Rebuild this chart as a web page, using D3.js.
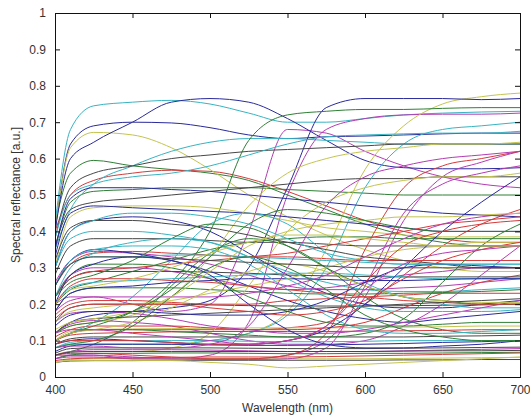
<!DOCTYPE html>
<html>
<head>
<meta charset="utf-8">
<script src="https://cdn.jsdelivr.net/npm/d3@7"></script>
<style>
  html, body { margin: 0; padding: 0; background: #fff; }
  svg { display: block; }
  text { font-family: "Liberation Sans", Arial, sans-serif; fill: #333; }
</style>
</head>
<body>
<svg id="chart" width="530" height="417"></svg>
<script>
// Sampling wavelengths (nm)
const wavelengths = [400, 410, 425, 450, 475, 500, 525, 550, 575, 600, 625, 650, 675, 700];

// Reflectance spectra, one array per sample (ordered to follow the colour cycle b g r c m y k)
const spectra = [
  // 1
  [0.40,0.64,0.69,0.70,0.698,0.685,0.665,0.655,0.66,0.662,0.665,0.668,0.67,0.67],
  [0.42,0.56,0.595,0.58,0.57,0.56,0.54,0.50,0.46,0.42,0.39,0.37,0.36,0.36],
  [0.40,0.50,0.54,0.56,0.568,0.565,0.545,0.51,0.47,0.43,0.40,0.38,0.37,0.37],
  [0.42,0.68,0.745,0.755,0.76,0.75,0.725,0.70,0.70,0.71,0.72,0.725,0.728,0.73],
  [0.20,0.22,0.22,0.20,0.18,0.20,0.40,0.68,0.67,0.62,0.58,0.55,0.53,0.52],
  [0.40,0.63,0.672,0.665,0.63,0.57,0.50,0.44,0.39,0.35,0.32,0.30,0.29,0.29],
  [0.28,0.36,0.38,0.38,0.38,0.375,0.37,0.37,0.365,0.36,0.36,0.36,0.36,0.36],
  // 2
  [0.40,0.60,0.645,0.70,0.755,0.765,0.755,0.71,0.65,0.595,0.575,0.572,0.572,0.575],
  [0.35,0.48,0.51,0.515,0.52,0.52,0.52,0.515,0.51,0.505,0.50,0.50,0.50,0.50],
  [0.25,0.31,0.34,0.345,0.34,0.335,0.33,0.33,0.325,0.32,0.32,0.32,0.32,0.32],
  [0.35,0.46,0.53,0.58,0.62,0.645,0.655,0.655,0.65,0.645,0.64,0.64,0.64,0.64],
  [0.05,0.06,0.06,0.05,0.05,0.06,0.15,0.50,0.68,0.71,0.72,0.722,0.722,0.725],
  [0.08,0.09,0.09,0.09,0.09,0.10,0.12,0.18,0.35,0.57,0.69,0.75,0.77,0.78],
  [0.36,0.46,0.48,0.49,0.50,0.51,0.52,0.53,0.54,0.545,0.545,0.55,0.55,0.55],
  // 3
  [0.12,0.15,0.17,0.18,0.19,0.21,0.30,0.52,0.74,0.765,0.765,0.765,0.762,0.765],
  [0.10,0.12,0.14,0.18,0.26,0.40,0.65,0.72,0.73,0.735,0.735,0.738,0.74,0.74],
  [0.10,0.12,0.13,0.13,0.13,0.13,0.13,0.135,0.15,0.20,0.28,0.36,0.42,0.46],
  [0.08,0.09,0.09,0.09,0.09,0.10,0.12,0.17,0.30,0.52,0.64,0.68,0.69,0.70],
  [0.26,0.32,0.345,0.34,0.33,0.31,0.28,0.25,0.24,0.24,0.245,0.25,0.26,0.27],
  [0.30,0.44,0.465,0.47,0.47,0.465,0.45,0.43,0.41,0.40,0.39,0.385,0.385,0.385],
  [0.15,0.19,0.20,0.20,0.20,0.198,0.196,0.195,0.195,0.195,0.196,0.197,0.198,0.20],
  // 4
  [0.35,0.49,0.52,0.52,0.515,0.51,0.50,0.49,0.48,0.47,0.46,0.45,0.445,0.44],
  [0.06,0.07,0.09,0.15,0.25,0.34,0.38,0.36,0.30,0.22,0.16,0.13,0.12,0.12],
  [0.17,0.20,0.21,0.21,0.205,0.20,0.20,0.21,0.215,0.22,0.225,0.23,0.23,0.23],
  [0.30,0.38,0.40,0.40,0.39,0.37,0.33,0.29,0.26,0.24,0.235,0.235,0.24,0.245],
  [0.12,0.145,0.155,0.15,0.14,0.12,0.10,0.09,0.09,0.10,0.14,0.20,0.28,0.36],
  [0.10,0.125,0.13,0.132,0.133,0.134,0.135,0.135,0.135,0.136,0.137,0.138,0.14,0.14],
  [0.04,0.044,0.045,0.045,0.046,0.046,0.046,0.046,0.046,0.046,0.047,0.047,0.048,0.048],
  // 5
  [0.33,0.45,0.47,0.465,0.46,0.455,0.45,0.44,0.43,0.42,0.41,0.40,0.40,0.40],
  [0.20,0.24,0.26,0.29,0.32,0.35,0.37,0.38,0.385,0.385,0.38,0.38,0.38,0.38],
  [0.11,0.13,0.14,0.14,0.14,0.135,0.13,0.13,0.135,0.15,0.19,0.23,0.26,0.28],
  [0.25,0.31,0.33,0.33,0.335,0.335,0.33,0.325,0.32,0.315,0.31,0.31,0.31,0.31],
  [0.06,0.06,0.06,0.055,0.05,0.05,0.05,0.06,0.10,0.22,0.43,0.55,0.59,0.62],
  [0.04,0.048,0.05,0.05,0.05,0.05,0.05,0.05,0.05,0.05,0.051,0.052,0.053,0.054],
  [0.38,0.52,0.56,0.58,0.60,0.61,0.62,0.625,0.63,0.635,0.64,0.64,0.64,0.64],
  // 6
  [0.30,0.40,0.43,0.44,0.43,0.40,0.34,0.28,0.23,0.20,0.19,0.19,0.20,0.21],
  [0.18,0.23,0.245,0.245,0.245,0.24,0.235,0.23,0.228,0.228,0.23,0.232,0.235,0.24],
  [0.06,0.065,0.065,0.06,0.055,0.05,0.05,0.06,0.12,0.35,0.52,0.58,0.60,0.62],
  [0.10,0.12,0.15,0.22,0.32,0.42,0.45,0.42,0.34,0.26,0.22,0.20,0.19,0.19],
  [0.22,0.28,0.30,0.30,0.29,0.27,0.25,0.24,0.245,0.26,0.28,0.29,0.30,0.30],
  [0.06,0.07,0.07,0.07,0.08,0.12,0.25,0.40,0.48,0.52,0.54,0.55,0.55,0.56],
  [0.22,0.27,0.29,0.29,0.29,0.288,0.285,0.28,0.278,0.276,0.275,0.275,0.275,0.275],
  // 7
  [0.25,0.32,0.35,0.34,0.32,0.29,0.25,0.21,0.18,0.16,0.15,0.16,0.17,0.18],
  [0.05,0.06,0.065,0.065,0.066,0.066,0.065,0.064,0.064,0.065,0.065,0.066,0.067,0.068],
  [0.10,0.115,0.12,0.122,0.124,0.125,0.125,0.125,0.125,0.126,0.127,0.128,0.13,0.13],
  [0.20,0.245,0.26,0.265,0.27,0.275,0.28,0.285,0.285,0.28,0.275,0.27,0.27,0.27],
  [0.06,0.07,0.075,0.075,0.075,0.074,0.072,0.07,0.07,0.07,0.072,0.074,0.076,0.078],
  [0.12,0.14,0.15,0.17,0.22,0.33,0.47,0.56,0.60,0.62,0.63,0.64,0.64,0.645],
  [0.09,0.105,0.11,0.11,0.11,0.11,0.11,0.11,0.11,0.11,0.11,0.112,0.113,0.115],
  // 8
  [0.18,0.23,0.245,0.25,0.26,0.265,0.27,0.27,0.268,0.265,0.265,0.268,0.27,0.27],
  [0.10,0.12,0.13,0.13,0.125,0.12,0.115,0.11,0.11,0.12,0.16,0.26,0.36,0.42],
  [0.22,0.27,0.29,0.30,0.31,0.32,0.33,0.34,0.36,0.38,0.40,0.42,0.43,0.44],
  [0.25,0.32,0.35,0.36,0.36,0.35,0.31,0.24,0.17,0.13,0.12,0.12,0.125,0.13],
  [0.05,0.055,0.055,0.05,0.05,0.048,0.048,0.05,0.08,0.25,0.45,0.53,0.56,0.58],
  [0.04,0.045,0.045,0.045,0.045,0.04,0.035,0.025,0.03,0.035,0.04,0.045,0.05,0.055],
  [0.32,0.41,0.43,0.43,0.42,0.41,0.39,0.37,0.35,0.33,0.32,0.31,0.30,0.30],
  // 9
  [0.07,0.085,0.09,0.09,0.09,0.088,0.087,0.087,0.088,0.09,0.092,0.095,0.097,0.10],
  [0.22,0.26,0.28,0.32,0.38,0.42,0.41,0.36,0.30,0.25,0.22,0.21,0.20,0.20],
  [0.045,0.05,0.052,0.053,0.054,0.055,0.055,0.055,0.056,0.058,0.06,0.062,0.064,0.066],
  [0.08,0.095,0.10,0.10,0.10,0.10,0.098,0.097,0.097,0.098,0.10,0.10,0.10,0.10],
  [0.15,0.175,0.18,0.175,0.16,0.14,0.13,0.12,0.12,0.13,0.15,0.17,0.19,0.21],
  [0.15,0.18,0.19,0.20,0.21,0.23,0.25,0.27,0.30,0.33,0.35,0.36,0.37,0.37],
  [0.065,0.078,0.08,0.08,0.08,0.08,0.079,0.078,0.078,0.078,0.079,0.08,0.081,0.082],
  // 10
  [0.09,0.10,0.105,0.10,0.095,0.09,0.09,0.10,0.13,0.20,0.30,0.40,0.48,0.55],
  [0.22,0.28,0.31,0.31,0.30,0.27,0.22,0.18,0.15,0.14,0.14,0.145,0.15,0.15],
  [0.20,0.25,0.27,0.27,0.265,0.26,0.25,0.24,0.23,0.22,0.21,0.205,0.20,0.20],
  [0.38,0.50,0.53,0.55,0.56,0.58,0.61,0.64,0.66,0.665,0.668,0.67,0.67,0.675],
  [0.18,0.21,0.22,0.22,0.22,0.22,0.23,0.25,0.28,0.33,0.38,0.42,0.44,0.45],
  [0.10,0.12,0.13,0.15,0.19,0.24,0.29,0.31,0.29,0.25,0.22,0.21,0.205,0.205],
  [0.12,0.15,0.16,0.165,0.17,0.175,0.18,0.185,0.19,0.195,0.20,0.205,0.21,0.215],
  // 11
  [0.20,0.28,0.31,0.33,0.32,0.28,0.20,0.13,0.09,0.08,0.08,0.085,0.09,0.10],
  [0.08,0.09,0.10,0.14,0.22,0.30,0.33,0.30,0.24,0.17,0.13,0.11,0.10,0.10],
  [0.09,0.10,0.10,0.10,0.095,0.09,0.09,0.10,0.14,0.26,0.36,0.40,0.42,0.43],
  [0.22,0.30,0.34,0.37,0.38,0.37,0.33,0.27,0.22,0.19,0.18,0.18,0.18,0.185],
  [0.08,0.085,0.085,0.08,0.08,0.09,0.14,0.30,0.47,0.55,0.58,0.60,0.61,0.62],
  [0.13,0.15,0.16,0.18,0.22,0.29,0.36,0.40,0.42,0.43,0.44,0.44,0.445,0.45],
  [0.06,0.068,0.07,0.07,0.07,0.07,0.07,0.07,0.07,0.07,0.071,0.072,0.072,0.073],
  // 12
  [0.14,0.17,0.18,0.18,0.175,0.17,0.17,0.18,0.21,0.26,0.30,0.31,0.305,0.30],
  [0.12,0.14,0.15,0.18,0.24,0.33,0.42,0.46,0.45,0.43,0.41,0.40,0.40,0.40],
  [0.16,0.19,0.20,0.20,0.20,0.19,0.18,0.17,0.18,0.21,0.27,0.32,0.35,0.37],
  [0.30,0.40,0.43,0.45,0.45,0.44,0.42,0.38,0.34,0.32,0.31,0.31,0.31,0.31],
  [0.12,0.13,0.13,0.12,0.11,0.10,0.09,0.10,0.14,0.24,0.31,0.34,0.35,0.36],
  [0.20,0.24,0.25,0.27,0.30,0.34,0.37,0.39,0.39,0.38,0.37,0.36,0.36,0.36],
  [0.25,0.31,0.33,0.33,0.325,0.32,0.315,0.31,0.305,0.30,0.30,0.30,0.30,0.30]
];

const xTicks = [400, 450, 500, 550, 600, 650, 700];
const yTicks = [0, 0.1, 0.2, 0.3, 0.4, 0.5, 0.6, 0.7, 0.8, 0.9, 1];
// Colour cycle: blue, green, red, cyan, magenta, olive, dark grey
const lineColors = ["#2a2a9c", "#2f7f35", "#d43b3b", "#38b4c2", "#b43cb4", "#c4c450", "#474747"];

const margin = { left: 55, right: 10, top: 13, bottom: 40 };
const width = 530, height = 417;
const innerW = width - margin.left - margin.right;
const innerH = height - margin.top - margin.bottom;

const svg = d3.select("#chart");
const g = svg.append("g").attr("transform", `translate(${margin.left},${margin.top})`);

const x = d3.scaleLinear().domain([400, 700]).range([0, innerW]);
const y = d3.scaleLinear().domain([0, 1]).range([innerH, 0]);
const color = d3.scaleOrdinal().domain(d3.range(lineColors.length)).range(lineColors);

g.append("clipPath").attr("id", "plot-clip")
  .append("rect").attr("width", innerW).attr("height", innerH);

const line = d3.line()
  .x((v, i) => x(wavelengths[i]))
  .y(v => y(v))
  .curve(d3.curveMonotoneX);

g.append("g").attr("clip-path", "url(#plot-clip)")
  .selectAll("path")
  .data(spectra)
  .join("path")
  .attr("d", d => line(d))
  .attr("fill", "none")
  .attr("stroke", (d, i) => color(i % lineColors.length))
  .attr("stroke-width", 1);

// Axes with inward ticks on all four sides
const tickLen = 5;
const xAxisB = d3.axisBottom(x).tickValues(xTicks).tickSize(-tickLen).tickPadding(tickLen + 3).tickFormat(d3.format("d"));
const xAxisT = d3.axisTop(x).tickValues(xTicks).tickSize(-tickLen).tickFormat("");
const yAxisL = d3.axisLeft(y).tickValues(yTicks).tickSize(-tickLen).tickPadding(tickLen + 4).tickFormat(d => d === 0 || d === 1 ? d3.format("d")(d) : d3.format(".1f")(d));
const yAxisR = d3.axisRight(y).tickValues(yTicks).tickSize(-tickLen).tickFormat("");

function styleAxis(sel) {
  sel.select(".domain").attr("stroke", "#111").attr("stroke-width", 1);
  sel.selectAll(".tick line").attr("stroke", "#111");
  sel.selectAll(".tick text").attr("font-size", 12).attr("fill", "#333")
    .style("font-family", "'Liberation Sans', Arial, sans-serif");
}

g.append("g").attr("transform", `translate(0,${innerH})`).call(xAxisB).call(styleAxis);
g.append("g").call(xAxisT).call(styleAxis);
g.append("g").call(yAxisL).call(styleAxis);
g.append("g").attr("transform", `translate(${innerW},0)`).call(yAxisR).call(styleAxis);

// Axis titles
svg.append("text")
  .attr("x", margin.left + innerW / 2)
  .attr("y", 412)
  .attr("text-anchor", "middle")
  .attr("font-size", 12)
  .text("Wavelength (nm)");

svg.append("text")
  .attr("transform", `translate(20,${margin.top + innerH / 2}) rotate(-90)`)
  .attr("text-anchor", "middle")
  .attr("font-size", 12)
  .text("Spectral reflectance [a.u.]");
</script>
</body>
</html>
